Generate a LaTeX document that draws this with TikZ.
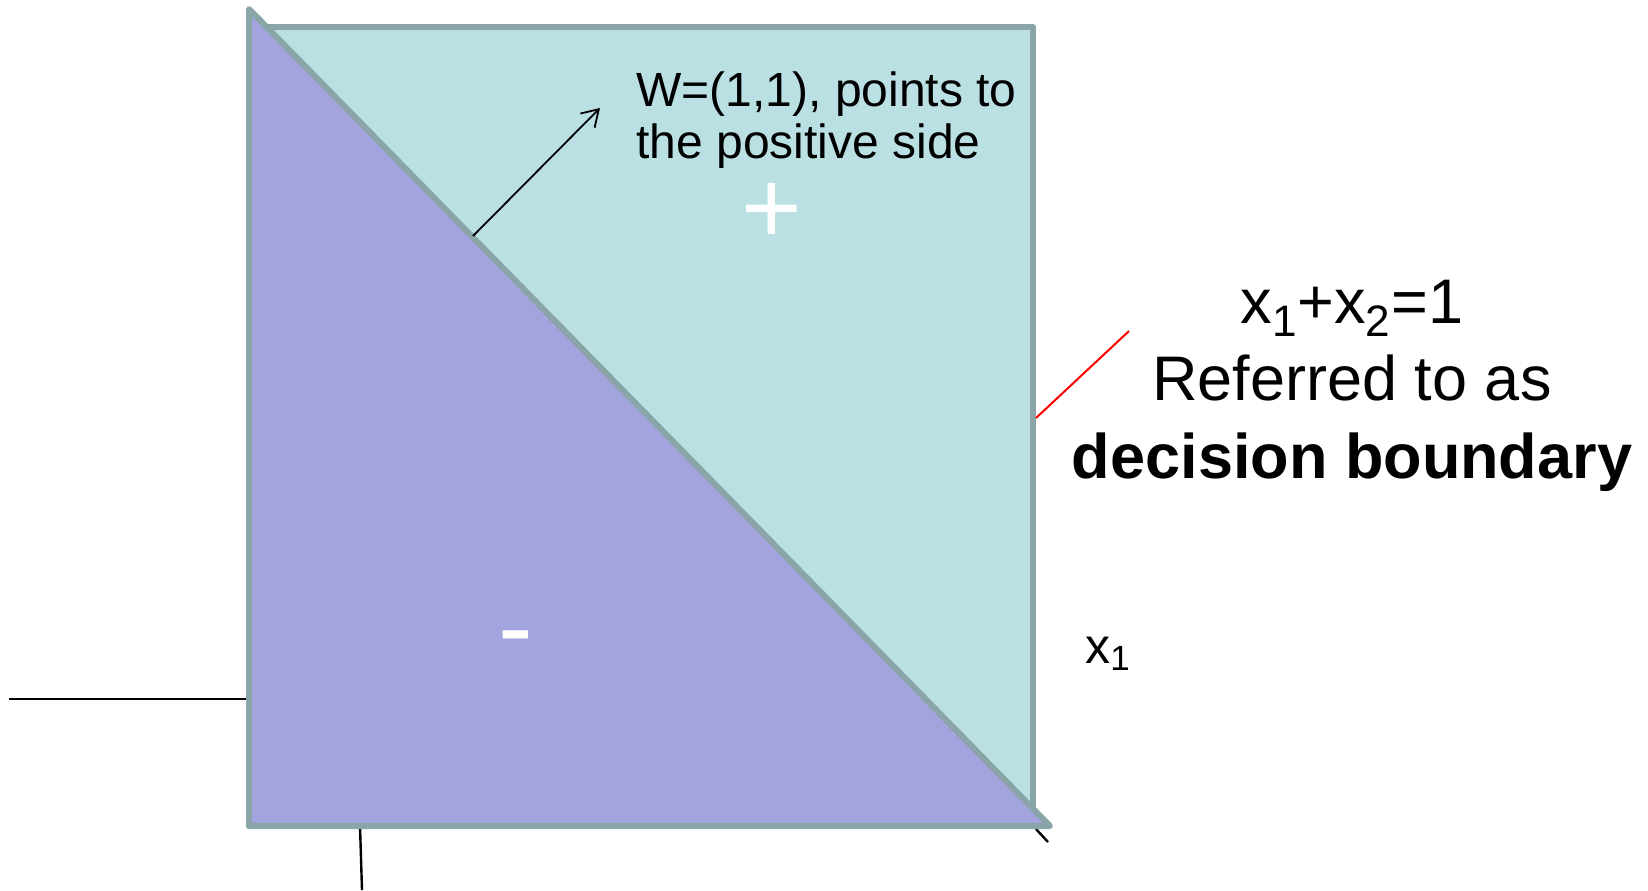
\documentclass[tikz,border=0pt]{standalone}
\usepackage{fontspec}
\setmainfont{Liberation Sans}
\usetikzlibrary{arrows.meta}
\definecolor{posregion}{HTML}{BAE0E3}
\definecolor{negregion}{HTML}{A3A3DE}
\definecolor{regionedge}{HTML}{89A5A7}

\begin{document}
\begin{tikzpicture}[
  x=0.5pt,
  y=-0.5pt,
  axis line/.style={draw=black,line width=1.2pt},
  region/.style={draw=regionedge,line width=3pt,line join=round},
  sign label/.style={text=white,inner sep=0pt,font=\fontsize{52}{52}\selectfont},
  note label/.style={inner sep=0pt,align=left,font=\fontsize{24}{26}\selectfont},
  axis label/.style={inner sep=0pt,font=\fontsize{25}{26}\selectfont},
  big label/.style={inner sep=0pt,align=center,font=\fontsize{31.5}{38.75}\selectfont},
]
\useasboundingbox (0,0) rectangle (1648,890);
\draw[axis line] (9,699) -- (1033,699);
\draw[axis line] (360,826) -- (362,890);
\draw[axis line] (1036,829) -- (1048,842);
\filldraw[region,fill=posregion] (249,27) rectangle (1033,826);
\filldraw[region,fill=negregion] (249,9) -- (249,826) -- (1050,826) -- cycle;
\coordinate (wtail) at (473,236);
\coordinate (whead) at (600,108);
\draw[-{Straight Barb[length=8pt,width=10pt]},line width=0.9pt] (wtail) -- (whead);
\coordinate (redstart) at (1036,418);
\coordinate (redend) at (1129,331);
\draw[red,line width=1pt] (redstart) -- (redend);
\node[note label,anchor=base west] (wnote) at (636,158) {W=(1,1), points to\\the positive side};
\node[sign label,anchor=base] (plus) at (771.5,243.5) {+};
\node[sign label,anchor=base] (minus) at (516,662) {-};
\node[axis label,anchor=base west] (xone) at (1085,663) {x\textsubscript{1}};
\node[big label,anchor=base] (boundary) at (1352,478) {x\textsubscript{1}+x\textsubscript{2}=1\\Referred to as\\\textbf{decision boundary}};
\end{tikzpicture}
\end{document}
